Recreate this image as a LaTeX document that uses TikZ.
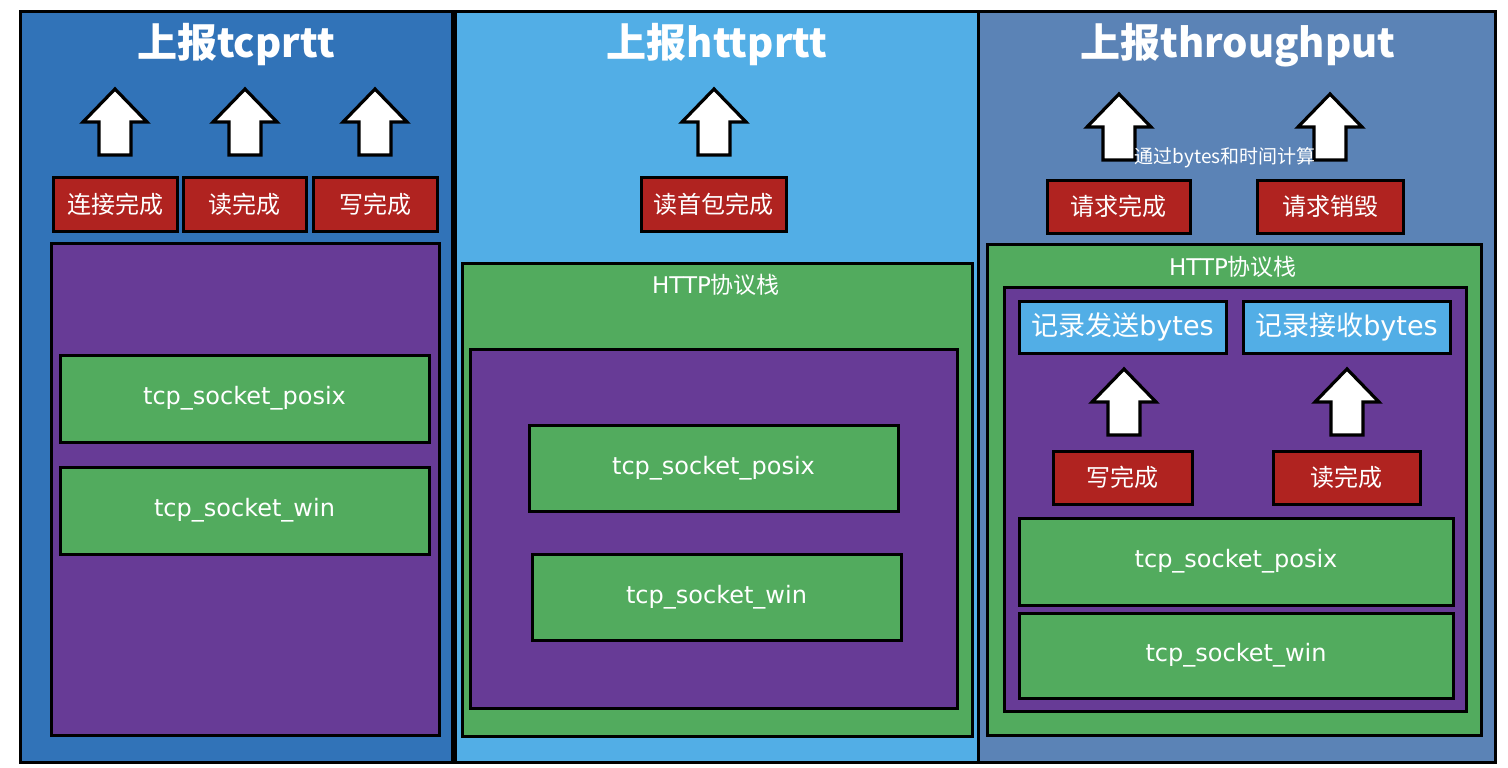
\documentclass[tikz,border=0pt]{standalone}
\usepackage{fontspec}
\usepackage{xcolor}
\setmainfont{DejaVu Sans}
\newfontfamily\cjk{Noto Sans CJK SC}

\definecolor{tcpblue}{RGB}{49,115,184}
\definecolor{httpblue}{RGB}{82,174,230}
\definecolor{thrblue}{RGB}{91,131,182}
\definecolor{evtred}{RGB}{176,35,32}
\definecolor{layerpurple}{RGB}{103,59,150}
\definecolor{sockgreen}{RGB}{82,171,94}

\tikzset{uparrow/.pic={
  \draw[line width=3.2pt, fill=white, line join=miter]
    (0,0) -- (32,33) -- (16,33) -- (16,66) -- (-16,66) -- (-16,33) -- (-32,33) -- cycle;
}}

\begin{document}
\begin{tikzpicture}[x=1pt,y=-1pt]
\tikzstyle{panel} = [rectangle, draw=black, line width=3pt, inner sep=0pt]
\tikzstyle{title} = [text=white, font=\cjk\bfseries\fontsize{40}{44}\selectfont]
\tikzstyle{event} = [rectangle, fill=evtred, draw=black, line width=3pt, text=white, font=\cjk\fontsize{24}{28}\selectfont]
\tikzstyle{stack} = [rectangle, fill=sockgreen, draw=black, line width=3pt]
\tikzstyle{layer} = [rectangle, fill=layerpurple, draw=black, line width=3pt]
\tikzstyle{socket} = [rectangle, fill=sockgreen, draw=black, line width=3pt, text=white, font=\fontsize{24}{28}\selectfont]
\tikzstyle{record} = [rectangle, fill=httpblue, draw=black, line width=3pt, text=white, font=\fontsize{27}{31}\selectfont]
\tikzstyle{label} = [text=white, font=\fontsize{23}{27}\selectfont]

\useasboundingbox (0,0) rectangle (1508,768);
\fill[white] (0,0) rectangle (1508,768);

% tcprtt
\node(tcpPanel) [panel, fill=tcpblue, minimum width=432, minimum height=750] at (236,387) {};
\node(tcpTitle) [title] at (236,45) {上报tcprtt};
\pic at (115,89) {uparrow};
\pic at (245,89) {uparrow};
\pic at (375,89) {uparrow};
\node(connDone) [event, minimum width=124, minimum height=54] at (115,204) {连接完成};
\node(readDone) [event, minimum width=123, minimum height=54] at (244.5,204) {读完成};
\node(writeDone) [event, minimum width=124, minimum height=54] at (375,204) {写完成};
\node(tcpLayer) [layer, minimum width=388, minimum height=492] at (245,489) {};
\node(tcpPosix) [socket, minimum width=369, minimum height=87] at (244.5,398.5) {tcp\_socket\_posix};
\node(tcpWin) [socket, minimum width=369, minimum height=87] at (244.5,510.5) {tcp\_socket\_win};

% httprtt
\node(httpPanel) [panel, fill=httpblue, minimum width=523, minimum height=750] at (716.5,387) {};
\node(httpTitle) [title] at (717,45) {上报httprtt};
\pic at (714,89) {uparrow};
\node(firstPkg) [event, minimum width=145, minimum height=54] at (713.5,204) {读首包完成};
\node(httpStack) [stack, minimum width=510, minimum height=473] at (717,499.5) {};
\node(httpLabel) [label] at (716,285) {HTTP{\cjk 协议栈}};
\node(httpLayer) [layer, minimum width=487, minimum height=359] at (713.5,528.5) {};
\node(httpPosix) [socket, minimum width=369, minimum height=86] at (713.5,468) {tcp\_socket\_posix};
\node(httpWin) [socket, minimum width=369, minimum height=86] at (716.5,597) {tcp\_socket\_win};

% throughput
\node(thrPanel) [panel, fill=thrblue, minimum width=517, minimum height=750] at (1236.5,387) {};
\node(thrTitle) [title] at (1238,45) {上报throughput};
\pic at (1119,94) {uparrow};
\pic at (1330,94) {uparrow};
\node(calcNote) [text=white, font=\cjk\fontsize{19}{22}\selectfont] at (1225,158) {通过bytes和时间计算};
\node(reqDone) [event, minimum width=143, minimum height=53] at (1118.5,206.5) {请求完成};
\node(reqDestroy) [event, minimum width=146, minimum height=53] at (1330,206.5) {请求销毁};
\node(thrStack) [stack, minimum width=494, minimum height=491] at (1234,489.5) {};
\node(thrLabel) [label] at (1233,267) {HTTP{\cjk 协议栈}};
\node(thrLayer) [layer, minimum width=462, minimum height=424] at (1235,499) {};
\node(sendBytes) [record, minimum width=207, minimum height=52] at (1122.5,327) {{\cjk 记录发送}bytes};
\node(recvBytes) [record, minimum width=207, minimum height=52] at (1346.5,327) {{\cjk 记录接收}bytes};
\pic at (1124,369) {uparrow};
\pic at (1347,369) {uparrow};
\node(thrWrite) [event, minimum width=139, minimum height=53] at (1122.5,477.5) {写完成};
\node(thrRead) [event, minimum width=147, minimum height=53] at (1346.5,477.5) {读完成};
\node(thrPosix) [socket, minimum width=434, minimum height=87] at (1236,561.5) {tcp\_socket\_posix};
\node(thrWin) [socket, minimum width=434, minimum height=85] at (1236,655.5) {tcp\_socket\_win};
\end{tikzpicture}
\end{document}
